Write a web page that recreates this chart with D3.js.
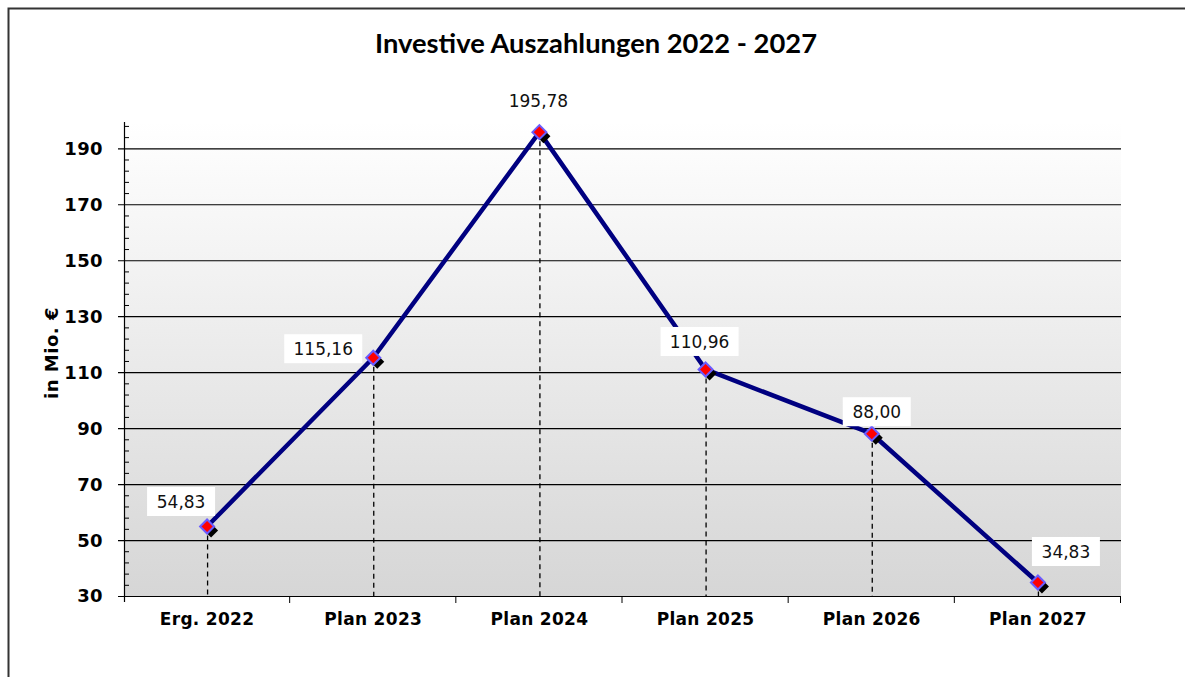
<!DOCTYPE html>
<head>
<meta http-equiv="Content-type" content="text/html;charset=UTF-8">
</head>
<style>
body { margin: 0; background: #fff; }
svg { display: block; }
</style>
<svg width="1185" height="677"></svg>
<script src="https://d3js.org/d3.v7.min.js"></script>
<script>

// data
var categories = ["Erg. 2022", "Plan 2023", "Plan 2024", "Plan 2025", "Plan 2026", "Plan 2027"];
var values = [54.83, 115.16, 195.78, 110.96, 88.00, 34.83];
var yTicks = [30, 50, 70, 90, 110, 130, 150, 170, 190];

var svg = d3.select("svg"),
    margin = {top: 122, right: 64, bottom: 81, left: 124},
    width = +svg.attr("width") - margin.left - margin.right,
    height = +svg.attr("height") - margin.top - margin.bottom;

// outer frame
svg.append("rect")
    .attr("x", 8.5).attr("y", 8.5)
    .attr("width", 1200).attr("height", 700)
    .attr("fill", "none")
    .attr("stroke", "#333")
    .attr("stroke-width", 2);

var defs = svg.append("defs");
var grad = defs.append("linearGradient")
    .attr("id", "bg").attr("x1", 0).attr("y1", 0).attr("x2", 0).attr("y2", 1);
grad.append("stop").attr("offset", "0%").attr("stop-color", "#ffffff");
grad.append("stop").attr("offset", "100%").attr("stop-color", "#d6d6d6");

var g = svg.append("g").attr("transform", "translate(" + margin.left + "," + margin.top + ")");

var x = d3.scaleBand().domain(categories).range([0, width]);
var y = d3.scaleLinear().domain([30, 199.4]).range([height, 0]);

g.append("rect")
    .attr("width", width).attr("height", height)
    .attr("fill", "url(#bg)");

// grid lines
g.append("g")
    .selectAll("line")
    .data(yTicks)
    .enter().append("line")
      .attr("x1", -6).attr("x2", width)
      .attr("y1", function(d) { return y(d) + 0.5; })
      .attr("y2", function(d) { return y(d) + 0.5; })
      .attr("stroke", "#000")
      .attr("stroke-width", 1.2);

// minor ticks on y axis
g.append("g")
    .selectAll("line")
    .data(d3.range(30, 200, 4).filter(function(v) { return (v - 30) % 20 != 0; }))
    .enter().append("line")
      .attr("x1", 0).attr("x2", 5)
      .attr("y1", function(d) { return y(d) + 0.5; })
      .attr("y2", function(d) { return y(d) + 0.5; })
      .attr("stroke", "#000");

// y axis line
g.append("line")
    .attr("x1", 0.5).attr("x2", 0.5)
    .attr("y1", 0).attr("y2", height + 6)
    .attr("stroke", "#000").attr("stroke-width", 1.2);

// y tick labels
g.append("g")
    .selectAll("text")
    .data(yTicks)
    .enter().append("text")
      .attr("x", -21)
      .attr("y", function(d) { return y(d); })
      .attr("dy", "0.36em")
      .attr("text-anchor", "end")
      .attr("font-family", "DejaVu Sans")
      .attr("font-weight", "bold")
      .attr("font-size", 18)
      .attr("letter-spacing", 0.4)
      .text(function(d) { return d; });

// x axis
var xAxis = g.append("g")
    .attr("transform", "translate(0," + height + ")");
xAxis.append("line")
    .attr("x1", 0).attr("x2", width)
    .attr("y1", 0.5).attr("y2", 0.5)
    .attr("stroke", "#000").attr("stroke-width", 1.2);
xAxis.selectAll("line.tk")
    .data(categories.slice(1).concat(["end"]))
    .enter().append("line")
      .attr("class", "tk")
      .attr("x1", function(d, i) { return x.step() * (i + 1) - 0.5; })
      .attr("x2", function(d, i) { return x.step() * (i + 1) - 0.5; })
      .attr("y1", 0).attr("y2", 7)
      .attr("stroke", "#000");
xAxis.selectAll("text")
    .data(categories)
    .enter().append("text")
      .attr("x", function(d) { return x(d) + x.bandwidth() / 2; })
      .attr("y", 29)
      .attr("text-anchor", "middle")
      .attr("font-family", "DejaVu Sans")
      .attr("font-weight", "bold")
      .attr("font-size", 17)
      .attr("letter-spacing", 0.3)
      .text(function(d) { return d; });

var pts = categories.map(function(c, i) { return {cat: c, value: values[i]}; });
function px(d) { return x(d.cat) + x.bandwidth() / 2; }

// dashed drop lines
g.append("g")
    .selectAll("line")
    .data(pts)
    .enter().append("line")
      .attr("x1", function(d) { return px(d) + 0.5; })
      .attr("x2", function(d) { return px(d) + 0.5; })
      .attr("y1", function(d) { return y(d.value); })
      .attr("y2", height)
      .attr("stroke", "#000")
      .attr("stroke-width", 1.3)
      .attr("stroke-dasharray", "5,4");

// line
g.append("path")
    .datum(pts)
    .attr("fill", "none")
    .attr("stroke", "#000080")
    .attr("stroke-width", 4.5)
    .attr("stroke-linejoin", "round")
    .attr("d", d3.line().x(px).y(function(d) { return y(d.value); }));

// markers with shadow
var diamond = "M0,-7L7,0L0,7L-7,0Z";
g.append("g")
    .selectAll("path")
    .data(pts)
    .enter().append("path")
      .attr("d", diamond)
      .attr("transform", function(d) { return "translate(" + (px(d) + 4) + "," + (y(d.value) + 4) + ")"; })
      .attr("fill", "#000");
g.append("g")
    .selectAll("path")
    .data(pts)
    .enter().append("path")
      .attr("d", diamond)
      .attr("transform", function(d) { return "translate(" + px(d) + "," + y(d.value) + ")"; })
      .attr("fill", "#ff0000")
      .attr("stroke", "#6a5cff")
      .attr("stroke-width", 2);

// value labels, nudged like the original to avoid the line
var labelShift = [[-26, -25], [-50, -9], [-1, -31], [-6, -28], [5, -22], [28, -31]];
var labels = g.append("g")
    .selectAll("g")
    .data(pts)
    .enter().append("g")
      .attr("transform", function(d, i) {
        return "translate(" + (px(d) + labelShift[i][0]) + "," + (y(d.value) + labelShift[i][1]) + ")";
      });
labels.append("rect")
    .attr("x", function(d) { return d.value >= 100 ? -39 : -34; })
    .attr("y", -14.5)
    .attr("width", function(d) { return d.value >= 100 ? 78 : 68; })
    .attr("height", 29)
    .attr("fill", "#fff");
labels.append("text")
    .attr("text-anchor", "middle")
    .attr("dy", "0.36em")
    .attr("font-family", "DejaVu Sans")
    .attr("font-size", 17)
    .attr("fill", "#111")
    .text(function(d) { return d3.format(".2f")(d.value).replace(".", ","); });

// y axis title
svg.append("text")
    .attr("transform", "translate(58,353) rotate(-90)")
    .attr("text-anchor", "middle")
    .attr("font-family", "DejaVu Sans")
    .attr("font-weight", "bold")
    .attr("font-size", 18)
    .attr("letter-spacing", 0.5)
    .text("in Mio. €");

// title
svg.append("text")
    .attr("x", 596)
    .attr("y", 53)
    .attr("text-anchor", "middle")
    .attr("font-family", "Lato")
    .attr("font-weight", "bold")
    .attr("font-size", 27)
    .attr("textLength", 442)
    .attr("lengthAdjust", "spacingAndGlyphs")
    .text("Investive Auszahlungen 2022 - 2027");

</script>
